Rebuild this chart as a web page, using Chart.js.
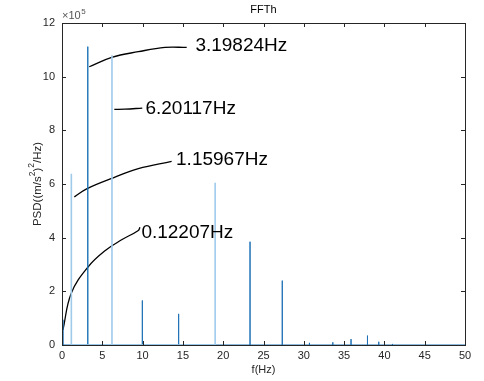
<!DOCTYPE html>
<html><head><meta charset="utf-8">
<script src="https://cdn.jsdelivr.net/npm/chart.js@4"></script>
<style>html,body{margin:0;padding:0;background:#fff}#wrap{width:484px;height:381px}</style>
</head><body><div id="wrap"><canvas id="c" width="484" height="381"></canvas></div>
<script>
// ---- data (PSD values in units of 1e5) ----
const darkFreqs = [0.12, 3.2, 9.97, 14.47, 23.33, 27.33, 30.7, 33.6, 35.86, 37.9, 39.3, 41.0];
const darkVals  = [0.94, 11.12, 1.66, 1.16, 3.85, 2.40, 0.08, 0.1, 0.22, 0.35, 0.12, 0.04];
const lightFreqs = [1.16, 6.2, 19.0];
const lightVals  = [6.38, 10.8, 6.05];
const xTicks = [0, 5, 10, 15, 20, 25, 30, 35, 40, 45, 50];
const yTicks = [0, 2, 4, 6, 8, 10, 12];
// annotation labels and their leader curves (data units)
const annoLabels = ["3.19824Hz", "6.20117Hz", "1.15967Hz", "0.12207Hz"];
const annoTextX = [16.55, 10.35, 14.15, 9.85];
const annoTextY = [11.14, 8.82, 6.92, 4.19];
const curve1X = [3.38, 6.17, 9.47, 12.78, 15.47];
const curve1Y = [10.37, 10.72, 10.93, 11.09, 11.09];
const curve2X = [6.49, 7.82, 9.96];
const curve2Y = [8.78, 8.79, 8.83];
const curve3X = [1.53, 3.06, 6.36, 9.47, 13.6];
const curve3Y = [5.52, 5.82, 6.23, 6.57, 6.84];
const curve4X = [0.12, 1.15, 3.27, 5.46, 7.4, 9.47, 9.67];
const curve4Y = [0.56, 1.93, 2.92, 3.54, 3.92, 4.27, 4.39];

function spikes(fs, vs, lo, hi) {
  const pts = [];
  if (lo !== undefined) pts.push({x: lo, y: 0});
  fs.forEach((f, i) => { pts.push({x: f, y: 0}, {x: f, y: vs[i]}, {x: f, y: 0}); });
  if (hi !== undefined) pts.push({x: hi, y: 0});
  return pts;
}
function pairs(xs, ys) { return xs.map((x, i) => ({x: x, y: ys[i]})); }

const FONT = "'Liberation Sans', Arial, Helvetica, sans-serif";
const TXT = '#262626';

const decor = {
  id: 'decor',
  afterDatasetsDraw(chart) {
    const ctx = chart.ctx, a = chart.chartArea;
    const xs = chart.scales.x, ys = chart.scales.y;
    ctx.save();
    ctx.strokeStyle = TXT; ctx.lineWidth = 1;
    ctx.strokeRect(Math.round(a.left) + 0.5, Math.round(a.top) + 0.5,
                   Math.round(a.right - a.left), Math.round(a.bottom - a.top));
    ctx.beginPath();
    xTicks.forEach(v => {
      const p = Math.round(xs.getPixelForValue(v)) + 0.5;
      ctx.moveTo(p, a.bottom); ctx.lineTo(p, a.bottom - 4);
      ctx.moveTo(p, a.top); ctx.lineTo(p, a.top + 4);
    });
    yTicks.forEach(v => {
      const p = Math.round(ys.getPixelForValue(v)) + 0.5;
      ctx.moveTo(a.left, p); ctx.lineTo(a.left + 4, p);
      ctx.moveTo(a.right, p); ctx.lineTo(a.right - 4, p);
    });
    ctx.stroke();
    ctx.fillStyle = '#000';
    ctx.font = "19px " + FONT;
    ctx.textBaseline = 'middle'; ctx.textAlign = 'left';
    annoLabels.forEach((t, i) => {
      ctx.fillText(t, xs.getPixelForValue(annoTextX[i]), ys.getPixelForValue(annoTextY[i]));
    });
    ctx.fillStyle = '#000';
    ctx.font = "11px " + FONT;
    ctx.textAlign = 'center'; ctx.textBaseline = 'middle';
    ctx.fillText('FFTh', (a.left + a.right) / 2, 10);
    ctx.fillStyle = TXT;
    ctx.fillText('f(Hz)', (a.left + a.right) / 2, 370);
    ctx.textAlign = 'left';
    ctx.fillStyle = '#555';
    ctx.font = "11px " + FONT;
    ctx.fillText('\u00d710', a.left, 16);
    const w10 = ctx.measureText('\u00d710').width;
    ctx.font = "8px " + FONT;
    ctx.fillText('5', a.left + w10 + 0.5, 12);
    ctx.fillStyle = TXT;
    ctx.translate(38, (a.top + a.bottom) / 2);
    ctx.rotate(-Math.PI / 2);
    const parts = [["PSD((m/s", 11.5, 0], ["2", 8.5, -5], [")", 11.5, 0], ["2", 8.5, -6], ["/Hz)", 11.5, 0]];
    let total = 0;
    parts.forEach(p => { ctx.font = p[1] + "px " + FONT; total += ctx.measureText(p[0]).width; });
    let cx = -total / 2;
    parts.forEach(p => {
      ctx.font = p[1] + "px " + FONT;
      ctx.fillText(p[0], cx, p[2]);
      cx += ctx.measureText(p[0]).width;
    });
    ctx.restore();
  }
};

new Chart(document.getElementById('c'), {
  type: 'scatter',
  data: {
    datasets: [
      {data: spikes(lightFreqs, lightVals), showLine: true, borderColor: '#9fcbeb', borderWidth: 1.6, pointRadius: 0, tension: 0},
      {data: spikes(darkFreqs, darkVals, 0, 50), showLine: true, borderColor: '#1f72b6', borderWidth: 1, pointRadius: 0, tension: 0},
      {data: pairs(curve1X, curve1Y), showLine: true, borderColor: '#000', borderWidth: 1.3, pointRadius: 0, tension: 0.4},
      {data: pairs(curve2X, curve2Y), showLine: true, borderColor: '#000', borderWidth: 1.3, pointRadius: 0, tension: 0.4},
      {data: pairs(curve3X, curve3Y), showLine: true, borderColor: '#000', borderWidth: 1.3, pointRadius: 0, tension: 0.4},
      {data: pairs(curve4X, curve4Y), showLine: true, borderColor: '#000', borderWidth: 1.3, pointRadius: 0, tension: 0.4}
    ]
  },
  options: {
    responsive: false, animation: false,
    layout: {padding: {top: 23, right: 19, left: 0, bottom: 0}},
    plugins: {legend: {display: false}, tooltip: {enabled: false}},
    scales: {
      x: {
        type: 'linear', min: 0, max: 50,
        afterBuildTicks: s => { s.ticks = xTicks.map(v => ({value: v})); },
        afterFit: s => { s.height = 36; },
        grid: {display: false, drawTicks: false, tickLength: 0}, border: {display: false},
        ticks: {color: TXT, font: {family: FONT, size: 11}, padding: 4, maxRotation: 0}
      },
      y: {
        type: 'linear', min: 0, max: 12,
        afterBuildTicks: s => { s.ticks = yTicks.map(v => ({value: v})); },
        afterFit: s => { s.width = 62; },
        grid: {display: false, drawTicks: false, tickLength: 0}, border: {display: false},
        ticks: {color: TXT, font: {family: FONT, size: 11}, padding: 7}
      }
    }
  },
  plugins: [decor]
});
</script></body></html>
